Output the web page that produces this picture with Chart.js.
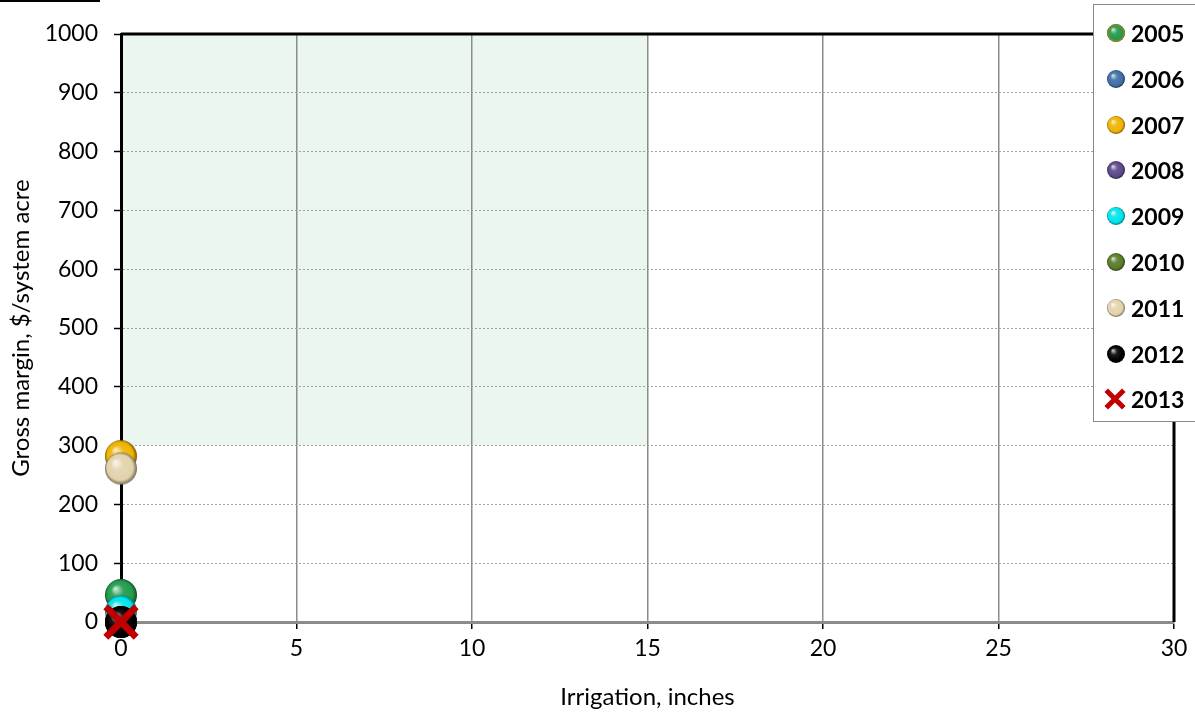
<!DOCTYPE html>
<html>
<head>
<meta charset="utf-8">
<script src="https://cdn.jsdelivr.net/npm/chart.js@4.4.1/dist/chart.umd.min.js"></script>
<style>
  html, body { margin: 0; padding: 0; background: #fff; }
  #wrap { position: relative; width: 1195px; height: 713px; }
  #legend { position: absolute; left: 1093px; top: 4px; width: 110px; height: 418px;
    border: 1.5px solid #8a8a8a; background: #fff; box-sizing: border-box;
    font-family: Lato, "Open Sans", sans-serif; font-weight: bold; font-size: 23px; color: #000; }
  .li { position: absolute; left: 0; height: 30px; display: flex; align-items: center; }
  .li canvas { margin-left: 12px; margin-right: 5px; }
</style>
</head>
<body>
<div id="wrap">
  <canvas id="c" width="1195" height="713"></canvas>
  <div id="legend"></div>
</div>
<script>
// ---- data ----
const years = ['2005','2006','2007','2008','2009','2010','2011','2012','2013'];
const irrigation = [0, 0, 0, 0, 0, 0, 0, 0, 0];
const grossMargin = [46, 0, 282, 0, 18, 0, 261, 0, 0];
const colors = ['#1f9a4c','#3e6ea6','#efb300','#5b4788','#00e3ea','#587a28','#e2d3ac','#000000','#c00000'];
const xTicks = [0, 5, 10, 15, 20, 25, 30];
const yTicks = [0, 100, 200, 300, 400, 500, 600, 700, 800, 900, 1000];
const shadeX = [0, 15];
const shadeY = [300, 1000];

function shade(hex, f) {
  const n = parseInt(hex.slice(1), 16);
  let r = (n >> 16) & 255, g = (n >> 8) & 255, b = n & 255;
  if (f >= 0) { r += (255 - r) * f; g += (255 - g) * f; b += (255 - b) * f; }
  else { r *= 1 + f; g *= 1 + f; b *= 1 + f; }
  return `rgb(${Math.round(r)},${Math.round(g)},${Math.round(b)})`;
}
function sphere(color, r, ring) {
  const s = 2 * r + 2;
  const cv = document.createElement('canvas');
  cv.width = s; cv.height = s;
  const c = cv.getContext('2d');
  const cx = s / 2, cy = s / 2;
  const g = c.createRadialGradient(cx - r * 0.35, cy - r * 0.4, r * 0.05, cx, cy, r);
  g.addColorStop(0, shade(color, 0.75));
  g.addColorStop(0.35, shade(color, 0.1));
  g.addColorStop(0.8, color);
  g.addColorStop(1, shade(color, -0.5));
  c.beginPath(); c.arc(cx, cy, r, 0, Math.PI * 2); c.fillStyle = g; c.fill();
  if (ring) { c.lineWidth = 2; c.strokeStyle = ring; c.beginPath(); c.arc(cx, cy, r - 1, 0, Math.PI * 2); c.stroke(); }
  return cv;
}
function cross(color, r, w) {
  const s = 2 * r + 2 * w;
  const cv = document.createElement('canvas');
  cv.width = s; cv.height = s;
  const c = cv.getContext('2d');
  c.strokeStyle = color; c.lineWidth = w; c.lineCap = 'butt';
  const a = r * 0.8, cx = s / 2, cy = s / 2;
  c.beginPath(); c.moveTo(cx - a, cy - a); c.lineTo(cx + a, cy + a);
  c.moveTo(cx + a, cy - a); c.lineTo(cx - a, cy + a); c.stroke();
  return cv;
}

const datasets = years.map((y, i) => ({
  label: y,
  data: [{ x: irrigation[i], y: grossMargin[i] }],
  pointStyle: i === 8 ? cross(colors[i], 19, 7) : sphere(colors[i], 16),
  backgroundColor: colors[i],
  borderColor: colors[i],
  order: -i,
  clip: false
}));

const framePlugin = {
  id: 'frame',
  beforeDraw(chart) {
    const { ctx, scales: { x, y } } = chart;
    ctx.save();
    ctx.fillStyle = '#eaf6ee';
    const x0 = x.getPixelForValue(shadeX[0]), x1 = x.getPixelForValue(shadeX[1]);
    const y0 = y.getPixelForValue(shadeY[1]), y1 = y.getPixelForValue(shadeY[0]);
    ctx.fillRect(x0, y0, x1 - x0, y1 - y0);
    ctx.restore();
  },
  beforeDatasetsDraw(chart) {
    const { ctx, chartArea: a } = chart;
    ctx.save();
    ctx.strokeStyle = '#000'; ctx.lineWidth = 3;
    ctx.beginPath();
    ctx.moveTo(a.left, a.top); ctx.lineTo(a.right, a.top); ctx.lineTo(a.right, a.bottom);
    ctx.stroke();
    ctx.lineWidth = 2;
    ctx.beginPath(); ctx.moveTo(0, 1); ctx.lineTo(100, 1); ctx.stroke();
    ctx.restore();
  }
};

const tickFont = { family: 'Lato, "Open Sans", sans-serif', size: 23 };
const titleFont = { family: 'Lato, "Open Sans", sans-serif', size: 24 };

new Chart(document.getElementById('c'), {
  type: 'scatter',
  data: { datasets },
  plugins: [framePlugin],
  options: {
    responsive: false,
    animation: false,
    layout: { padding: { left: 0, right: 21, top: 34, bottom: 0 } },
    plugins: { legend: { display: false }, tooltip: { enabled: false } },
    scales: {
      x: {
        type: 'linear', min: 0, max: 30,
        afterBuildTicks: s => { s.ticks = xTicks.map(v => ({ value: v })); },
        afterFit: s => { s.height = 91; },
        grid: { color: '#8c8c8c', lineWidth: 1.5, tickLength: 7, tickColor: '#000', tickWidth: 1.5 },
        border: { color: '#8c8c8c', width: 3 },
        ticks: { color: '#000', font: tickFont, padding: 6, callback: v => String(v) },
        title: { display: true, text: 'Irrigation, inches', color: '#000', font: titleFont, padding: { top: 4, bottom: 1 } }
      },
      y: {
        type: 'linear', min: 0, max: 1000,
        afterBuildTicks: s => { s.ticks = yTicks.map(v => ({ value: v })); },
        afterFit: s => { s.width = 121; },
        grid: { color: '#a0a0a0', lineWidth: 1, tickLength: 7, tickColor: '#000', tickWidth: 1.5 },
        border: { color: '#000', width: 3, dash: [2, 2] },
        ticks: { color: '#000', font: tickFont, padding: 16, callback: v => String(v) },
        title: { display: true, text: 'Gross margin, $/system acre', color: '#000', font: titleFont, padding: { top: 7, bottom: 0 } }
      }
    }
  }
});

// legend
const leg = document.getElementById('legend');
years.forEach((y, i) => {
  const d = document.createElement('div');
  d.className = 'li';
  d.style.top = (13 + i * 45.8) + 'px';
  const icon = i === 8 ? cross(colors[i], 11, 5) : sphere(colors[i], 9, i === 0 ? '#7a8a30' : null);
  icon.style.width = icon.width + 'px';
  if (i === 8) { icon.style.marginLeft = '5px'; icon.style.marginRight = '0px'; }
  d.appendChild(icon);
  const t = document.createElement('span');
  t.textContent = y;
  d.appendChild(t);
  leg.appendChild(d);
});
</script>
</body>
</html>
